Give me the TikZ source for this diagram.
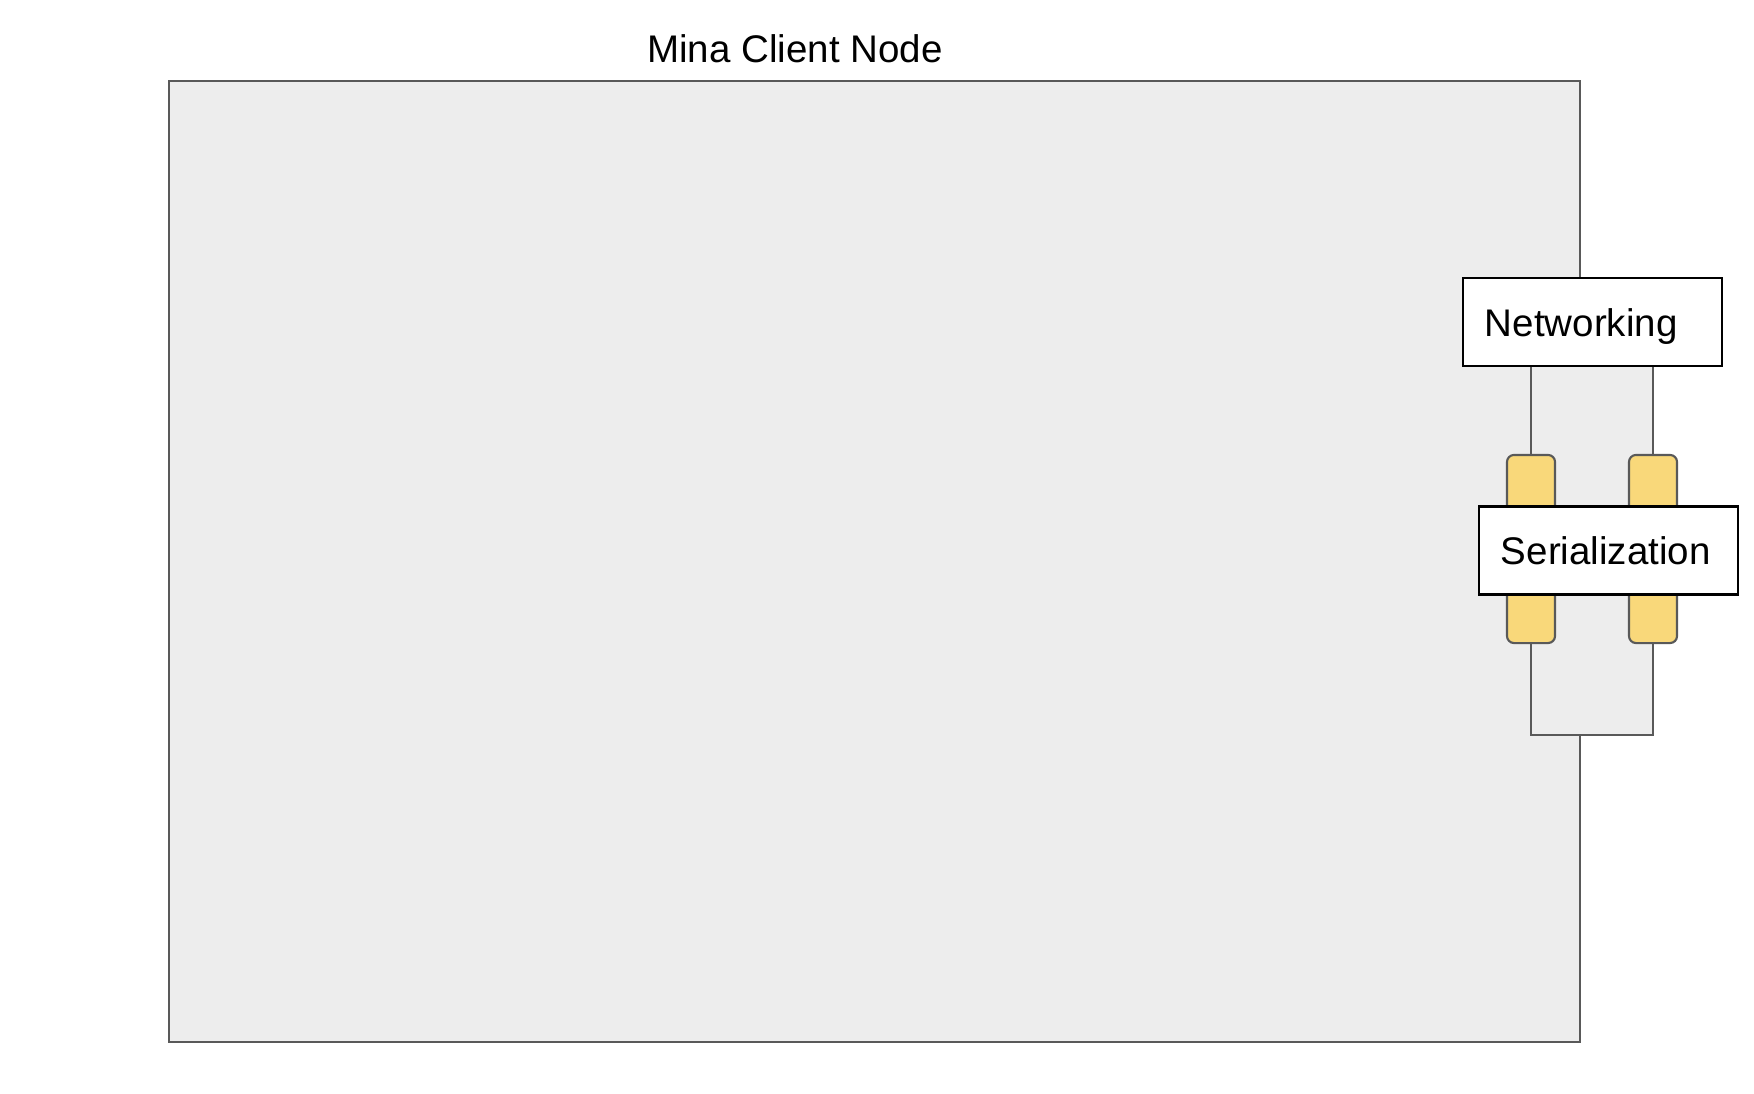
\documentclass[tikz,border=0pt]{standalone}
\usepackage{fontspec}
\setmainfont{Liberation Sans}
\usetikzlibrary{positioning}
\definecolor{clientgrey}{HTML}{EDEDED}
\definecolor{edgegrey}{HTML}{595959}
\definecolor{pillyellow}{HTML}{F9D87A}

\begin{document}
\begin{tikzpicture}[x=0.01cm,y=-0.01cm,
  layer/.style={draw=black,fill=white,line width=0.6pt,minimum height=0.88cm,
    inner xsep=0.22cm,text width=2.15cm,text height=0.36cm,text depth=0.08cm,
    align=left,font=\fontsize{10.95}{13}\selectfont},
  pill/.style={draw=edgegrey,fill=pillyellow,line width=0.6pt,rounded corners=0.07cm,
    minimum width=0.48cm,minimum height=1.88cm,inner sep=0pt},
  wire/.style={draw=edgegrey,line width=0.6pt}]
\useasboundingbox (0,0) rectangle (1754,1094);

% Client node frame
\fill[clientgrey] (169,81) rectangle (1580,1042);
\fill[clientgrey] (1531,366) rectangle (1654,735);
\node[anchor=base,font=\fontsize{10.95}{13}\selectfont] (title) at (795,63) {Mina Client Node};
\coordinate (top) at (1580,278);
\coordinate (bot) at (1580,735);
\draw[wire] (top) -- (1580,81) -- (169,81) -- (169,1042) -- (1580,1042) -- (bot);

% Wire pills between the layers
\node[pill] (pillL) at (1531,549) {};
\node[pill] (pillR) at (1653,549) {};
\node[layer] (net) at (1592.5,322) {Networking};
\draw[wire] (net.south -| pillL) -- (pillL.north);
\draw[wire] (net.south -| pillR) -- (pillR.north);
\draw[wire] (pillL.south) |- (bot) -| (pillR.south);

% Serialization sits across the pills
\node[layer] (ser) at (1608.5,550.5) {Serialization};
\end{tikzpicture}
\end{document}
